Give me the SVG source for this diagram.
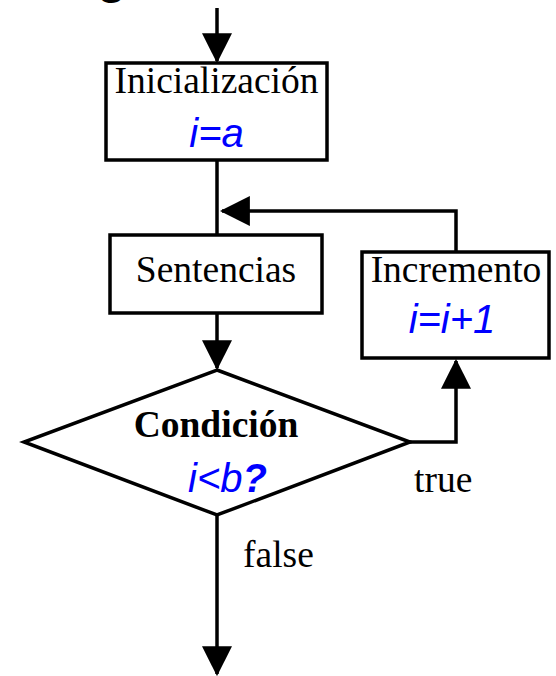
<svg xmlns="http://www.w3.org/2000/svg" width="556" height="676" viewBox="0 0 556 676">
<style>
.box{fill:#fff;stroke:#000;stroke-width:3.5}
.edge{fill:none;stroke:#000;stroke-width:3.5}
.serif{font-family:"Liberation Serif","Times New Roman",serif;font-size:37.5px;fill:#000}
.blue{font-family:"Liberation Sans",Arial,sans-serif;font-size:40px;font-style:italic;fill:#0000ff}
</style>
<defs>
<marker id="arr" markerUnits="userSpaceOnUse" markerWidth="30" markerHeight="30" viewBox="0 0 28 28" refX="26" refY="14" orient="auto">
<path d="M0,0 L28,14 L0,28 z" fill="#000"/>
</marker>
</defs>
<text x="97" y="-7" font-family="Liberation Sans,Arial,sans-serif" font-size="48" font-weight="bold">g</text>
<g id="connectors">
<path class="edge" d="M217,8 V61" marker-end="url(#arr)"/>
<path class="edge" d="M217,160 V235"/>
<path class="edge" d="M456,252 V211 H222" marker-end="url(#arr)"/>
<path class="edge" d="M217,313 V368" marker-end="url(#arr)"/>
<path class="edge" d="M410,442 H456 V361" marker-end="url(#arr)"/>
<path class="edge" d="M217,515 V674" marker-end="url(#arr)"/>
</g>
<g id="init">
<rect class="box" x="106" y="63" width="221" height="97"/>
<text class="serif" x="216.5" y="93" text-anchor="middle">Inicialización</text>
<text class="blue" x="216.5" y="147" text-anchor="middle">i=a</text>
</g>
<g id="sentencias">
<rect class="box" x="110" y="235" width="212" height="78"/>
<text class="serif" x="216" y="282" text-anchor="middle" font-size="39.5">Sentencias</text>
</g>
<g id="incremento">
<rect class="box" x="362" y="252" width="187" height="106"/>
<text class="serif" x="456" y="282" text-anchor="middle">Incremento</text>
<text class="blue" x="452" y="333" text-anchor="middle">i=i+1</text>
</g>
<g id="condicion">
<polygon class="box" points="217,370 410,442 217,515 24,442" stroke-width="3"/>
<text class="serif" x="216" y="437" text-anchor="middle" font-weight="bold">Condición</text>
<text class="blue" x="188" y="492">i&lt;b<tspan font-weight="bold">?</tspan></text>
</g>
<g id="labels">
<text class="serif" x="414" y="492">true</text>
<text class="serif" x="243" y="567">false</text>
</g>
</svg>
